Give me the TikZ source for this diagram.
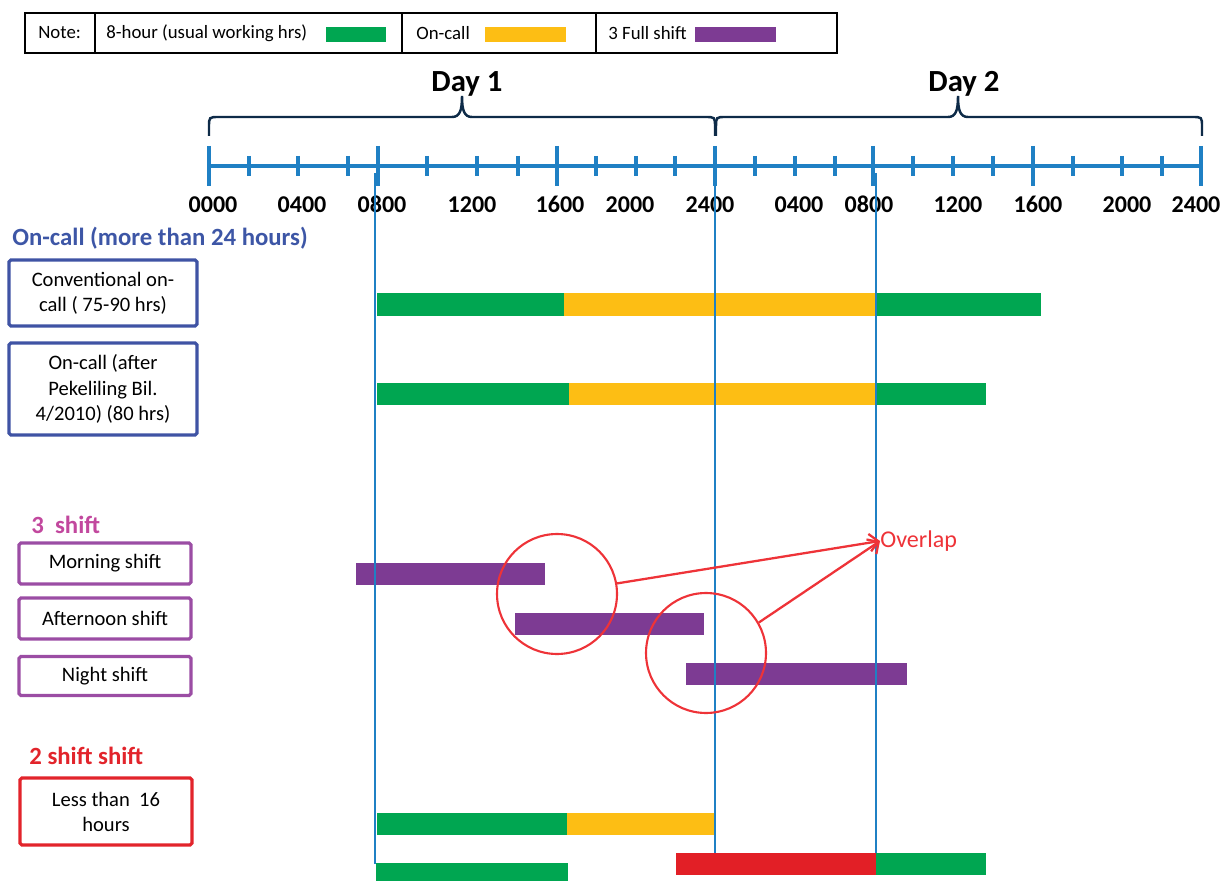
\documentclass[tikz,border=0pt]{standalone}
\usepackage{fontspec}
\setmainfont{Carlito}
\usetikzlibrary{arrows.meta}
\definecolor{cgreen}{HTML}{00A651}
\definecolor{cyellow}{HTML}{FDBE14}
\definecolor{cpurple}{HTML}{7D3B93}
\definecolor{cred}{HTML}{E21F26}
\definecolor{axblue}{HTML}{1F80C4}
\definecolor{boxblue}{HTML}{3F53A4}
\definecolor{hblue}{HTML}{3D56A6}
\definecolor{hmag}{HTML}{C2489E}
\definecolor{boxpurple}{HTML}{9B4DA4}
\definecolor{boxred}{HTML}{E2242B}
\definecolor{bracecol}{HTML}{0E2B48}
\definecolor{ored}{HTML}{EE3338}
\begin{document}
\begin{tikzpicture}[x=0.02cm,y=-0.02cm,
  lgtext/.style={anchor=west,inner sep=0pt,font=\fontsize{10.7}{12}\selectfont},
  daylbl/.style={inner sep=0pt,font=\fontsize{17.5}{20}\selectfont\bfseries},
  ticklbl/.style={anchor=base,inner sep=0pt,font=\fontsize{13.7}{16}\selectfont\bfseries},
  axisline/.style={draw=axblue,line width=2.3pt},
  tickline/.style={draw=axblue,line width=2.6pt},
  vline/.style={draw=axblue,line width=1.2pt},
  bracepath/.style={draw=bracecol,line width=1.4pt},
  head/.style={anchor=west,inner sep=0pt,font=\fontsize{14.1}{16}\selectfont\bfseries},
  lbox/.style={rectangle,rounded corners=1pt,line width=1.8pt,align=center,inner sep=0pt,
    font=\fontsize{11.7}{14.3}\selectfont,text=black},
  ring/.style={circle,draw=ored,line width=1.2pt,minimum size=2.4cm,inner sep=0pt},
  oarrow/.style={draw=ored,line width=1.3pt,-{Straight Barb[length=5pt,width=10pt]}}
]
\useasboundingbox (0,0) rectangle (1223,881);

% legend
\draw[line width=1.2pt] (25,13) rectangle (837,53);
\draw[line width=1.2pt] (95,13) -- (95,53) (402,13) -- (402,53) (596,13) -- (596,53);
\node[lgtext] (lnote) at (38,33) {Note:};
\node[lgtext] (lgreen) at (106,33) {8-hour (usual working hrs)};
\fill[cgreen] (326,27) rectangle (386,42);
\node[lgtext] (loncall) at (416,33) {On-call};
\fill[cyellow] (485,27) rectangle (566,42);
\node[lgtext] (lshift) at (608,33) {3 Full shift};
\fill[cpurple] (695,27) rectangle (776,42);

% days and braces
\node[daylbl] (day1) at (467,84) {Day 1};
\node[daylbl] (day2) at (964,84) {Day 2};
\draw[bracepath] (209,136) -- (209,127) .. controls (209,117) .. (219,117) -- (452,117)
  .. controls (460,117) and (462,110) .. (462,96)
  .. controls (462,110) and (464,117) .. (472,117) -- (705,117)
  .. controls (715,117) .. (715,127) -- (715,136);
\draw[bracepath] (716,136) -- (716,127) .. controls (716,117) .. (726,117) -- (948,117)
  .. controls (956,117) and (958,110) .. (958,96)
  .. controls (958,110) and (960,117) .. (968,117) -- (1192,117)
  .. controls (1202,117) .. (1202,127) -- (1202,136);

% axis
\draw[axisline] (208,166) -- (1202,166);
\foreach \x in {209,378,557,715,873,1033,1201} \draw[tickline] (\x,146) -- (\x,186);
\foreach \x in {249,298,348,427,477,518,596,636,675,755,795,835,913,953,993,1073,1122,1162}
  \draw[tickline] (\x,156) -- (\x,176);
\foreach \x/\t [count=\i] in {213/0000,302/0400,382/0800,472/1200,560/1600,630/2000,710/2400,
  799/0400,869/0800,958/1200,1038/1600,1127/2000,1196/2400}
  \node[ticklbl] (t\i) at (\x,213) {\t};

% left labels
\node[head,text=hblue] (h1) at (12,238) {On-call (more than 24 hours)};
\node[lbox,draw=boxblue,minimum width=3.76cm,minimum height=1.32cm] (b1) at (103,293)
  {Conventional on-\\call ( 75-90 hrs)};
\node[lbox,draw=boxblue,minimum width=3.76cm,minimum height=1.84cm] (b2) at (103,389)
  {On-call (after\\Pekeliling Bil.\\4/2010) (80 hrs)};
\node[head,text=hmag] (h2) at (31,525) {3\ \ shift};
\node[lbox,draw=boxpurple,minimum width=3.44cm,minimum height=0.82cm] (b3) at (105,563.5) {Morning shift};
\node[lbox,draw=boxpurple,minimum width=3.44cm,minimum height=0.82cm] (b4) at (105,618.5) {Afternoon shift};
\node[lbox,draw=boxpurple,minimum width=3.44cm,minimum height=0.78cm] (b5) at (105,676) {Night shift};
\node[head,text=boxred] (h3) at (29,756) {2 shift shift};
\node[lbox,draw=boxred,minimum width=3.44cm,minimum height=1.34cm] (b6) at (106,811.5)
  {Less than\ \ 16\\hours};

% bars
\fill[cgreen] (377,293) rectangle (564,316);
\fill[cyellow] (564,293) rectangle (876,316);
\fill[cgreen] (876,293) rectangle (1041,316);
\fill[cgreen] (377,383) rectangle (569,405);
\fill[cyellow] (569,383) rectangle (876,405);
\fill[cgreen] (876,383) rectangle (986,405);
\fill[cpurple] (356,563) rectangle (545,585);
\fill[cpurple] (515,613) rectangle (704,635);
\fill[cpurple] (686,663) rectangle (907,685);
\fill[cgreen] (377,813) rectangle (567,835);
\fill[cyellow] (567,813) rectangle (715,835);
\fill[cgreen] (376,863) rectangle (568,881);
\fill[cred] (676,853) rectangle (876,875);
\fill[cgreen] (876,853) rectangle (986,875);

% vertical guide lines
\draw[vline] (375,173) -- (375,864);
\draw[vline] (715,186) -- (715,853);
\draw[vline] (876,173) -- (876,853);

% overlap
\node[ring] (c1) at (557,594) {};
\node[ring] (c2) at (706,653) {};
\node[anchor=west,inner sep=0pt,text=ored,font=\fontsize{13.7}{16}\selectfont] (ov) at (880,541) {Overlap};
\draw[oarrow] (c1.10) -- (ov.west);
\draw[oarrow] (c2.30) -- (ov.west);
\end{tikzpicture}
\end{document}
